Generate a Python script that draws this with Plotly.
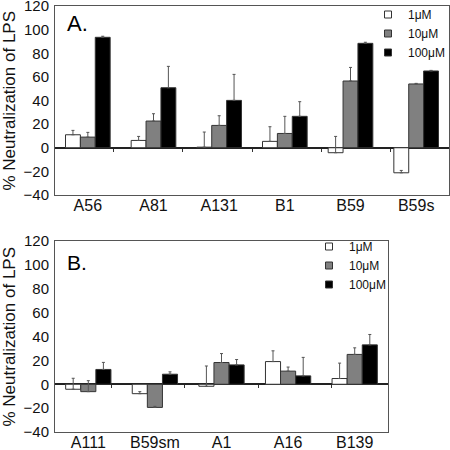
import plotly.graph_objects as go

# ---------------- data ----------------
series_names = ["1\u03bcM", "10\u03bcM", "100\u03bcM"]

cats_a = ["A56", "A81", "A131", "B1", "B59", "B59s"]
a_1uM = [11, 6.2, 0.5, 5.4, -4.2, -21.2]
a_1uM_err = [3.7, 3.4, 12.8, 12.4, 13.8, 2.0]
a_10uM = [9, 22.6, 18.9, 12.1, 56.5, 54]
a_10uM_err = [4.0, 6.2, 8.2, 14.5, 11.5, 0.5]
a_100uM = [93.5, 50.8, 40.1, 26.6, 88.4, 65]
a_100uM_err = [0.9, 18.1, 22.0, 12.4, 0.9, 0.5]

cats_b = ["A111", "B59sm", "A1", "A16", "B139"]
b_1uM = [-4.2, -7.9, -1.7, 19, 4.8]
b_1uM_err = [9.2, 1.7, 17.0, 9.0, 12.9]
b_10uM = [-6.2, -19.4, 18.2, 11, 25]
b_10uM_err = [9.2, 0.9, 7.5, 3.4, 5.5]
b_100uM = [12.4, 8.4, 16.2, 7, 33]
b_100uM_err = [5.9, 2.0, 4.5, 15.5, 8.7]

y_ticks = [-40, -20, 0, 20, 40, 60, 80, 100, 120]

fills = ["white", "#808080", "black"]
FONT = "Liberation Sans, Arial, sans-serif"

fig = go.Figure()

def add_panel(cats, vals, errs, xa, ya, legend):
    for name, v, e, col in zip(series_names, vals, errs, fills):
        fig.add_trace(go.Bar(
            x=cats, y=v, name=name, xaxis=xa, yaxis=ya,
            marker=dict(color=col, line=dict(color="#333", width=1)),
            error_y=dict(type="data", symmetric=False, array=e,
                         arrayminus=[0] * len(e), color="#555",
                         thickness=1, width=1.5),
            showlegend=False, hoverinfo="skip"))
        # legend proxy with a small square symbol
        fig.add_trace(go.Scatter(
            x=[None], y=[None], mode="markers", name=name,
            xaxis=xa, yaxis=ya, legend=legend,
            marker=dict(symbol="square", size=7, color=col,
                        line=dict(color="#333", width=1))))

add_panel(cats_a, [a_1uM, a_10uM, a_100uM],
          [a_1uM_err, a_10uM_err, a_100uM_err], "x", "y", "legend")
add_panel(cats_b, [b_1uM, b_10uM, b_100uM],
          [b_1uM_err, b_10uM_err, b_100uM_err], "x2", "y2", "legend2")

# invisible traces for boundary tick axes on the zero line
fig.add_trace(go.Scatter(x=cats_a, y=[0] * len(cats_a), xaxis="x3", yaxis="y",
                         mode="markers", marker=dict(opacity=0),
                         showlegend=False, hoverinfo="skip"))
fig.add_trace(go.Scatter(x=cats_b, y=[0] * len(cats_b), xaxis="x4", yaxis="y2",
                         mode="markers", marker=dict(opacity=0),
                         showlegend=False, hoverinfo="skip"))

# the page is 450 px wide; the figure is a bit wider so the legend is not
# clamped, and the extra strip falls outside the window
W, H = 470, 450
ml, mt, mb = 55, 6, 18
mr = W - 449
plot_h = H - mt - mb
plot_w = W - ml - mr
dom_a = [(H - mb - 195) / plot_h, 1.0]
dom_b = [0.0, (H - mb - 241) / plot_h]
xdom_b = [0.0, (388 - ml) / plot_w]

ymin, ymax = -40, 120
zero_frac = (0 - ymin) / (ymax - ymin)
pos_a = dom_a[0] + zero_frac * (dom_a[1] - dom_a[0])
pos_b = dom_b[0] + zero_frac * (dom_b[1] - dom_b[0])

axis_line = dict(showline=True, linecolor="#555", linewidth=1, mirror=True,
                 automargin=False, ticklabeloverflow="allow")

yax = dict(range=[ymin, ymax], tickvals=y_ticks, showgrid=False,
           zeroline=True, zerolinecolor="#222", zerolinewidth=1.5,
           ticks="", ticklabelstandoff=2,
           tickfont=dict(family=FONT, size=15, color="#111"), **axis_line)
xax = dict(type="category", showgrid=False, ticks="", ticklabelstandoff=-4,
           tickfont=dict(family=FONT, size=16, color="#111"), **axis_line)
tick_ax = dict(type="category", showgrid=False, showline=False,
               ticks="outside", tickson="boundaries", ticklen=3,
               tickcolor="#333", tickwidth=1, showticklabels=False,
               automargin=False)

fig.update_layout(
    width=W, height=H,
    margin=dict(l=ml, r=mr, t=mt, b=mb, autoexpand=False),
    paper_bgcolor="white", plot_bgcolor="white",
    barmode="group", bargap=0.32, bargroupgap=0,
    font=dict(family=FONT, color="#111"),
    xaxis=dict(domain=[0, 1], anchor="y", categoryarray=cats_a, **xax),
    yaxis=dict(domain=dom_a, anchor="x", **yax),
    xaxis2=dict(domain=xdom_b, anchor="y2", categoryarray=cats_b, **xax),
    yaxis2=dict(domain=dom_b, anchor="x2", **yax),
    xaxis3=dict(overlaying="x", anchor="free", position=pos_a,
                domain=[0, 1], categoryarray=cats_a, **tick_ax),
    xaxis4=dict(overlaying="x2", anchor="free", position=pos_b,
                domain=xdom_b, categoryarray=cats_b, **tick_ax),
    legend=dict(x=(368 - ml) / plot_w, y=1.0 + 6 / plot_h, xanchor="left",
                yanchor="top", bgcolor="rgba(0,0,0,0)",
                font=dict(family=FONT, size=12, color="#111")),
    legend2=dict(x=(309 - ml) / plot_w, y=dom_b[1] + 9 / plot_h,
                 xanchor="left", yanchor="top", bgcolor="rgba(0,0,0,0)",
                 font=dict(family=FONT, size=12, color="#111")),
    annotations=[
        dict(text="A.", xref="x domain", yref="y domain", x=0.025, y=0.91,
             xanchor="left", yanchor="middle", showarrow=False,
             font=dict(family=FONT, size=22, color="black")),
        dict(text="B.", xref="x2 domain", yref="y2 domain", x=0.03, y=0.885,
             xanchor="left", yanchor="middle", showarrow=False,
             font=dict(family=FONT, size=21, color="black")),
        dict(text="% Neutralization of LPS", xref="paper", yref="y domain",
             x=(9 - ml) / plot_w, y=0.5, textangle=-90,
             xanchor="center", yanchor="middle", showarrow=False,
             font=dict(family=FONT, size=17, color="#111")),
        dict(text="% Neutralization of LPS", xref="paper", yref="y2 domain",
             x=(9 - ml) / plot_w, y=0.5, textangle=-90,
             xanchor="center", yanchor="middle", showarrow=False,
             font=dict(family=FONT, size=17, color="#111")),
    ],
)

fig.write_html("out.html",
               config={"displayModeBar": False},
               post_script="document.body.style.margin='0';"
                           "document.body.style.overflow='hidden';")
